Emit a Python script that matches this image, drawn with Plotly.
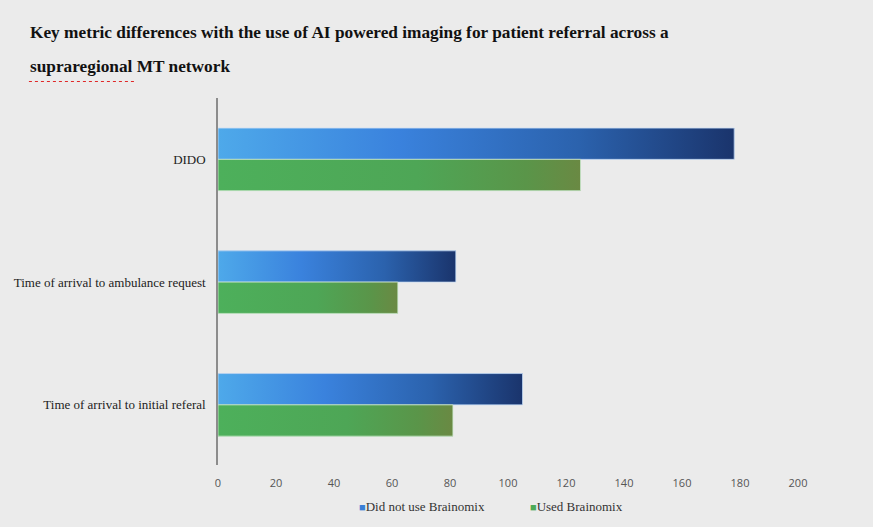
import plotly.graph_objects as go

categories = ["DIDO", "Time of arrival to ambulance request", "Time of arrival to initial referal"]
did_not_use = [178, 82, 105]
used = [125, 62, 81]
x_ticks = [0, 20, 40, 60, 80, 100, 120, 140, 160, 180, 200]
series_names = ["Did not use Brainomix", "Used Brainomix"]
series_colors = ["#3a7fd6", "#4daa57"]

# numeric positions, top category highest
pos = [len(categories) - 1 - i for i in range(len(categories))]
BW = 0.255

blue_scale = [[0, "#4ea9ea"], [0.35, "#3a82dd"], [0.7, "#2b62ad"], [1, "#1a346c"]]
green_scale = [[0, "#4db05b"], [0.55, "#4ea656"], [0.85, "#5a9549"], [1, "#6a8943"]]

fig = go.Figure()

# base bars
fig.add_trace(go.Bar(
    y=pos, x=did_not_use, orientation="h", name=series_names[0],
    width=BW, offset=0, marker=dict(color=series_colors[0], line=dict(width=0)),
    showlegend=False,
))
fig.add_trace(go.Bar(
    y=pos, x=used, orientation="h", name=series_names[1],
    width=BW, offset=-BW, marker=dict(color=series_colors[1], line=dict(width=0)),
    showlegend=False,
))

# gradient overlays computed from the data
for p, v in zip(pos, did_not_use):
    fig.add_trace(go.Scatter(
        x=[0, v, v, 0, 0], y=[p, p, p + BW, p + BW, p], mode="lines",
        fill="toself", line=dict(color="#c9dcf2", width=0.8),
        fillgradient=dict(type="horizontal", colorscale=blue_scale),
        showlegend=False, hoverinfo="skip",
    ))
for p, v in zip(pos, used):
    fig.add_trace(go.Scatter(
        x=[0, v, v, 0, 0], y=[p - BW, p - BW, p, p, p - BW], mode="lines",
        fill="toself", line=dict(color="#cfe8cf", width=0.8),
        fillgradient=dict(type="horizontal", colorscale=green_scale),
        showlegend=False, hoverinfo="skip",
    ))

legend_ann = []
for name, col, xp in zip(series_names, series_colors, [0.24, 0.535]):
    legend_ann.append(dict(
        text=f'<span style="color:{col};font-size:11px">■</span>{name}',
        xref="paper", yref="paper", x=xp, y=-0.114, xanchor="left", yanchor="middle",
        showarrow=False, font=dict(family="Liberation Serif", size=13, color="#333333"),
    ))

bg = "#ebebeb"
fig.update_layout(
    width=873, height=527,
    margin=dict(l=218, r=75, t=98, b=62),
    paper_bgcolor=bg, plot_bgcolor=bg,
    barmode="overlay",
    showlegend=False,
    xaxis=dict(range=[0, 200], tickvals=x_ticks, showgrid=False, zeroline=False,
               showline=False, ticks="outside", ticklen=8, tickcolor="rgba(0,0,0,0)",
               tickfont=dict(family="Open Sans", size=11, color="#555555")),
    yaxis=dict(range=[-0.49, 2.5], tickvals=pos, ticktext=categories, showgrid=False,
               zeroline=False, showline=True, linecolor="#8c8c8c", linewidth=1.5,
               ticks="outside", ticklen=8, tickcolor="rgba(0,0,0,0)",
               tickfont=dict(family="Liberation Serif", size=13, color="#222222")),
    annotations=[
        dict(text="<b>Key metric differences with the use of AI powered imaging for patient referral across a</b>",
             xref="paper", yref="paper", x=-0.327, y=1.178, xanchor="left", yanchor="middle",
             showarrow=False, font=dict(family="Liberation Serif", size=17.3, color="#111111")),
        dict(text="<b>supraregional MT network</b>",
             xref="paper", yref="paper", x=-0.327, y=1.085, xanchor="left", yanchor="middle",
             showarrow=False, font=dict(family="Liberation Serif", size=17.3, color="#111111")),
    ] + legend_ann,
    shapes=[
        dict(type="line", xref="paper", yref="paper", x0=-0.326, x1=-0.14, y0=1.045, y1=1.045,
             line=dict(color="#e02828", width=1.2, dash="dot")),
    ],
)

fig.write_html("out.html")
